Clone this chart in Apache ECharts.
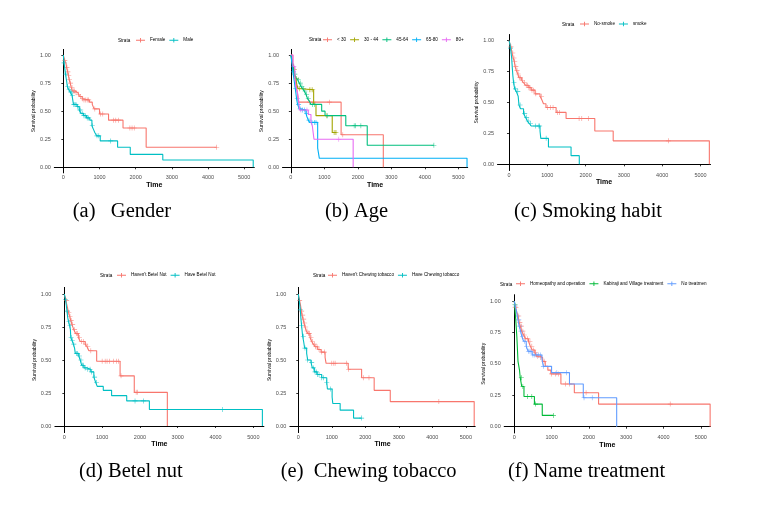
<html>
<head>
<meta charset="utf-8">
<title>Survival curves</title>
<script src="https://cdn.jsdelivr.net/npm/echarts@6/dist/echarts.min.js"></script>
</head>
<body style="margin:0;padding:0;background:#fff;">
<div id="main" style="width:758px;height:507px;"></div>
<script type="text/javascript">
// axis ticks
var xTicks = [0, 1000, 2000, 3000, 4000, 5000];
var yTicks = [0, 0.25, 0.5, 0.75, 1];

// (a) gender  -- [time, survival] after each drop, censor times
var femaleSteps = [[0,1],[40,0.95],[70,0.93],[90,0.89],[120,0.85],[140,0.82],[160,0.78],[190,0.75],[220,0.71],[250,0.68],[330,0.665],[400,0.65],[450,0.63],[520,0.61],[560,0.60],[720,0.58],[800,0.56],[850,0.52],[1000,0.475],[1250,0.42],[1650,0.35],[2290,0.178],[4240,0.178]];
var femaleCens = [40,100,125,150,170,200,240,280,310,350,420,480,530,570,620,660,700,870,1030,1090,1390,1450,1520,1840,1900,1960,4240];
var maleSteps = [[0,1],[20,0.93],[60,0.83],[90,0.77],[110,0.72],[150,0.69],[190,0.67],[240,0.64],[260,0.60],[280,0.56],[380,0.54],[440,0.51],[490,0.48],[560,0.46],[640,0.44],[730,0.42],[790,0.37],[830,0.34],[870,0.31],[920,0.28],[1020,0.235],[1500,0.178],[1850,0.115],[2750,0.065],[5250,0]];
var maleCens = [20,70,120,160,200,230,250,290,320,350,400,450,480,520,570,610,660,700,800,930,980,1310];

// (b) age
var lt30Steps = [[0,1],[60,0.93],[100,0.86],[130,0.79],[160,0.72],[200,0.65],[230,0.58],[1500,0.29],[2760,0]];
var lt30Cens = [550,680,1150,1550];
var a3044Steps = [[0,1],[40,0.93],[80,0.87],[110,0.82],[150,0.79],[180,0.73],[220,0.70],[300,0.69],[680,0.56],[750,0.46],[1235,0.31],[1350,0.31]];
var a3044Cens = [100,170,260,550,600,650,1060,1290,1320,1350];
var a4564Steps = [[0,1],[40,0.95],[70,0.88],[100,0.83],[150,0.80],[200,0.78],[250,0.75],[300,0.72],[350,0.70],[400,0.68],[450,0.65],[500,0.61],[550,0.59],[600,0.56],[920,0.50],[1020,0.46],[1640,0.37],[2280,0.196],[4270,0.196]];
var a4564Cens = [120,220,280,330,380,420,470,520,640,700,1100,1890,1930,2090,4270];
var a6580Steps = [[0,1],[30,0.93],[60,0.85],[100,0.77],[130,0.70],[150,0.66],[170,0.61],[200,0.56],[250,0.52],[300,0.51],[450,0.48],[480,0.45],[520,0.42],[560,0.40],[800,0.17],[850,0.08],[5260,0]];
var a6580Cens = [80,140,190,230,280,350,400,470,540,630,700,750];
var a80Steps = [[0,1],[60,0.90],[120,0.80],[150,0.72],[200,0.66],[230,0.60],[260,0.51],[520,0.47],[600,0.40],[640,0.37],[690,0.25],[1860,0]];
var a80Cens = [90,180,300,480,1430];

// (c) smoking
var noSmokeSteps = [[0,1],[50,0.95],[80,0.90],[110,0.86],[140,0.83],[160,0.79],[190,0.76],[230,0.73],[260,0.70],[330,0.68],[380,0.66],[430,0.64],[520,0.62],[580,0.60],[680,0.57],[810,0.55],[860,0.52],[900,0.49],[965,0.46],[1230,0.42],[1490,0.37],[2240,0.27],[2720,0.19],[5230,0]];
var noSmokeCens = [50,100,130,150,180,210,240,280,300,350,400,450,480,520,550,600,640,700,850,1000,1080,1150,1270,1320,1830,1900,2070,4160];
var smokeSteps = [[0,1],[20,0.98],[40,0.94],[70,0.86],[80,0.81],[100,0.72],[120,0.66],[150,0.61],[190,0.59],[240,0.55],[260,0.48],[300,0.45],[380,0.41],[430,0.38],[480,0.35],[530,0.33],[580,0.31],[810,0.27],[830,0.21],[1030,0.14],[1620,0.07],[1835,0]];
var smokeCens = [40,130,170,230,290,410,460,500,560,690,780,800,970];

// (d) betel nut
var noBetelSteps = [[0,1],[40,0.95],[80,0.90],[110,0.86],[140,0.83],[170,0.80],[200,0.77],[250,0.73],[300,0.70],[370,0.67],[420,0.64],[550,0.62],[600,0.60],[650,0.57],[855,0.49],[1475,0.38],[1850,0.255],[2725,0]];
var noBetelCens = [60,120,150,180,220,270,320,350,400,450,500,560,620,700,1000,1080,1130,1200,1300,1380,1430,1500,1900,1930];
var betelSteps = [[0,1],[30,0.96],[50,0.92],[70,0.87],[90,0.82],[110,0.79],[140,0.76],[160,0.73],[170,0.67],[200,0.65],[240,0.62],[270,0.59],[290,0.55],[380,0.53],[420,0.50],[460,0.46],[520,0.44],[600,0.43],[700,0.41],[780,0.37],[830,0.33],[870,0.30],[1030,0.27],[1250,0.23],[1650,0.19],[2250,0.125],[5240,0]];
var betelCens = [30,80,120,150,180,210,250,320,350,400,440,480,500,550,620,680,720,800,850,1870,2090,4190];

// (e) chewing tobacco
var noChewSteps = [[0,1],[40,0.95],[70,0.91],[90,0.87],[110,0.84],[140,0.81],[170,0.78],[200,0.75],[240,0.72],[290,0.70],[350,0.67],[400,0.64],[450,0.62],[500,0.60],[580,0.58],[680,0.56],[800,0.52],[830,0.475],[1490,0.43],[1890,0.365],[2265,0.27],[2745,0.185],[5250,0]];
var noChewCens = [40,100,130,160,190,220,260,300,330,380,420,480,520,560,620,700,780,1000,1060,1100,1440,1500,1940,2110,4195];
var chewSteps = [[0,1],[30,0.95],[60,0.88],[80,0.81],[100,0.76],[130,0.68],[160,0.64],[190,0.59],[250,0.55],[280,0.50],[380,0.48],[420,0.44],[480,0.41],[560,0.39],[700,0.365],[850,0.33],[870,0.28],[1010,0.22],[1030,0.17],[1250,0.12],[1650,0.06],[1890,0.06]];
var chewCens = [60,100,150,200,280,400,450,500,540,580,620,700,750,850,960,1890];

// (f) name treatment
var homeoSteps = [[0,1],[20,0.95],[60,0.92],[100,0.88],[130,0.83],[160,0.80],[200,0.76],[250,0.73],[300,0.70],[380,0.68],[430,0.64],[480,0.61],[550,0.59],[600,0.56],[700,0.55],[760,0.52],[830,0.48],[900,0.45],[980,0.42],[1250,0.34],[1610,0.27],[2260,0.18],[5250,0]];
var homeoCens = [20,50,120,150,190,230,270,300,360,420,470,520,570,620,700,800,1000,1100,1180,1370,1480,1925,4180];
var kabSteps = [[0,1],[10,0.97],[40,0.85],[70,0.71],[100,0.52],[140,0.45],[160,0.39],[200,0.32],[260,0.24],[540,0.18],[750,0.09],[1050,0.09]];
var kabCens = [20,190,230,360,470,570,1050];
var noTreatSteps = [[0,1],[20,0.96],[60,0.92],[80,0.88],[100,0.85],[130,0.80],[170,0.76],[200,0.72],[250,0.68],[320,0.64],[370,0.60],[480,0.57],[740,0.54],[780,0.48],[1000,0.43],[1480,0.34],[1850,0.23],[2745,0]];
var noTreatCens = [30,90,120,150,180,220,280,330,380,420,450,500,550,600,650,700,780,1140,1400,1870,2090];

var captions = ['(a)   Gender', '(b) Age', '(c) Smoking habit', '(d) Betel nut', '(e)  Chewing tobacco', '(f) Name treatment'];

// layout of the six panels (pixels)
var panels = [
    {left: 54.3, top: 49.4, width: 200, height: 123.5, xmin: -250, xmax: 5280, yGap: 17, legendX: 136, legendY: 40.7, strataX: 118, capX: 72.7, capY: 211.5},
    {left: 282.5, top: 49.4, width: 185.2, height: 123.5, xmin: -250, xmax: 5280, yGap: 13, legendX: 323, legendY: 40.2, strataX: 309, capX: 325, capY: 211.5},
    {left: 497.5, top: 34.5, width: 213, height: 136, xmin: -300, xmax: 5260, yGap: 13, legendX: 580, legendY: 24.5, strataX: 562, capX: 514, capY: 211.5},
    {left: 54.9, top: 287.4, width: 209, height: 145.2, xmin: -250, xmax: 5280, yGap: 17, legendX: 117, legendY: 275.7, strataX: 100, capX: 79, capY: 471.5},
    {left: 289.9, top: 287.4, width: 185.3, height: 145.2, xmin: -250, xmax: 5280, yGap: 16, legendX: 328, legendY: 275.7, strataX: 313, capX: 280.7, capY: 471.5},
    {left: 504.2, top: 294.7, width: 206.3, height: 138.3, xmin: -270, xmax: 5260, yGap: 17, legendX: 516, legendY: 284.3, strataX: 500, capX: 508, capY: 471.5}
];

var RED = '#F8766D', TEAL = '#00BFC4';
var PLUS = 'path://M0,4.4H10V5.6H0Z M4.4,0H5.6V10H4.4Z';
var LEGEND_ICON = 'path://M0,4H20V6H0Z M9,0H11V10H9Z';
var colorOf = {};

function survAt(steps, t) {
    var s = steps[0][1];
    for (var i = 0; i < steps.length; i++) {
        if (steps[i][0] <= t) s = steps[i][1];
    }
    return s;
}

function km(name, color, steps, cens, g) {
    colorOf[name] = color;
    return [{
        name: name, type: 'line', step: 'end', xAxisIndex: g, yAxisIndex: g,
        data: steps, showSymbol: false, symbol: 'none',
        lineStyle: {color: color, width: 1.1}, itemStyle: {color: color}
    }, {
        name: name, type: 'scatter', xAxisIndex: g, yAxisIndex: g,
        data: cens.map(function (t) { return [t, survAt(steps, t)]; }),
        symbol: PLUS, symbolSize: 5, itemStyle: {color: color}
    }];
}

var series = [].concat(
    km('Female', RED, femaleSteps, femaleCens, 0),
    km('Male', TEAL, maleSteps, maleCens, 0),
    km('< 30', '#F8766D', lt30Steps, lt30Cens, 1),
    km('30 - 44', '#A3A500', a3044Steps, a3044Cens, 1),
    km('45-64', '#00BF7D', a4564Steps, a4564Cens, 1),
    km('65-80', '#00B0F6', a6580Steps, a6580Cens, 1),
    km('80+', '#E76BF3', a80Steps, a80Cens, 1),
    km('No-smoke', RED, noSmokeSteps, noSmokeCens, 2),
    km('smoke', TEAL, smokeSteps, smokeCens, 2),
    km("Haven't Betel Nut", RED, noBetelSteps, noBetelCens, 3),
    km('Have Betel Nut', TEAL, betelSteps, betelCens, 3),
    km("Haven't Chewing tobacco", RED, noChewSteps, noChewCens, 4),
    km('Have Chewing tobacco', TEAL, chewSteps, chewCens, 4),
    km('Homeopathy and operation', '#F8766D', homeoSteps, homeoCens, 5),
    km('Kabiraji and Village treatment', '#00BA38', kabSteps, kabCens, 5),
    km('No treatmen', '#619CFF', noTreatSteps, noTreatCens, 5)
);

var legendNames = [
    ['Female', 'Male'],
    ['< 30', '30 - 44', '45-64', '65-80', '80+'],
    ['No-smoke', 'smoke'],
    ["Haven't Betel Nut", 'Have Betel Nut'],
    ["Haven't Chewing tobacco", 'Have Chewing tobacco'],
    ['Homeopathy and operation', 'Kabiraji and Village treatment', 'No treatmen']
];

var tickLine = {color: '#000', width: 0.8};
var tickFont = {fontSize: 5.5, color: '#4D4D4D', fontFamily: 'Liberation Sans'};

var grids = [], xAxes = [], yAxes = [], legends = [], graphics = [];
panels.forEach(function (p, i) {
    grids.push({left: p.left, top: p.top, width: p.width, height: p.height});
    xAxes.push({
        gridIndex: i, type: 'value', min: p.xmin, max: p.xmax,
        name: 'Time', nameLocation: 'middle', nameGap: 6,
        nameTextStyle: {fontSize: 7, fontWeight: 'bold', color: '#000', fontFamily: 'Liberation Sans'},
        axisLine: {lineStyle: {color: '#000', width: 1}},
        axisTick: {show: true, length: 2, lineStyle: tickLine, customValues: xTicks},
        axisLabel: Object.assign({margin: 1.5, customValues: xTicks,
            formatter: function (v) { return String(v); }}, tickFont),
        splitLine: {show: false}
    });
    yAxes.push({
        gridIndex: i, type: 'value', min: -0.05, max: 1.05,
        name: 'Survival probability', nameLocation: 'middle', nameGap: p.yGap,
        nameTextStyle: {fontSize: 5, color: '#000', fontFamily: 'Liberation Sans'},
        axisLine: {show: true, lineStyle: {color: '#000', width: 1}},
        axisTick: {show: true, length: 2, lineStyle: tickLine, customValues: yTicks},
        axisLabel: Object.assign({margin: 3.5, customValues: yTicks,
            formatter: function (v) { return v.toFixed(2); }}, tickFont),
        splitLine: {show: false}
    });
    legends.push({
        data: legendNames[i].map(function (n) {
            return {name: n, itemStyle: {color: colorOf[n]}};
        }),
        left: p.legendX, top: p.legendY - 3,
        itemWidth: 9, itemHeight: 6, itemGap: 4, padding: 0,
        icon: LEGEND_ICON, selectedMode: false,
        textStyle: {fontSize: 4.6, color: '#000', fontFamily: 'Liberation Sans'}
    });
    graphics.push({
        type: 'text', left: p.strataX, top: p.legendY - 2.5,
        style: {text: 'Strata', fontSize: 4.6, fill: '#000', fontFamily: 'Liberation Sans'}
    });
    graphics.push({
        type: 'text', x: p.capX, y: p.capY,
        style: {text: captions[i], fontSize: 20.5, fill: '#000', fontFamily: 'Liberation Serif',
            textVerticalAlign: 'middle'}
    });
});

var chart = echarts.init(document.getElementById('main'));
chart.setOption({
    backgroundColor: '#fff',
    animation: false,
    grid: grids,
    xAxis: xAxes,
    yAxis: yAxes,
    legend: legends,
    graphic: graphics,
    series: series
});
</script>
</body>
</html>
